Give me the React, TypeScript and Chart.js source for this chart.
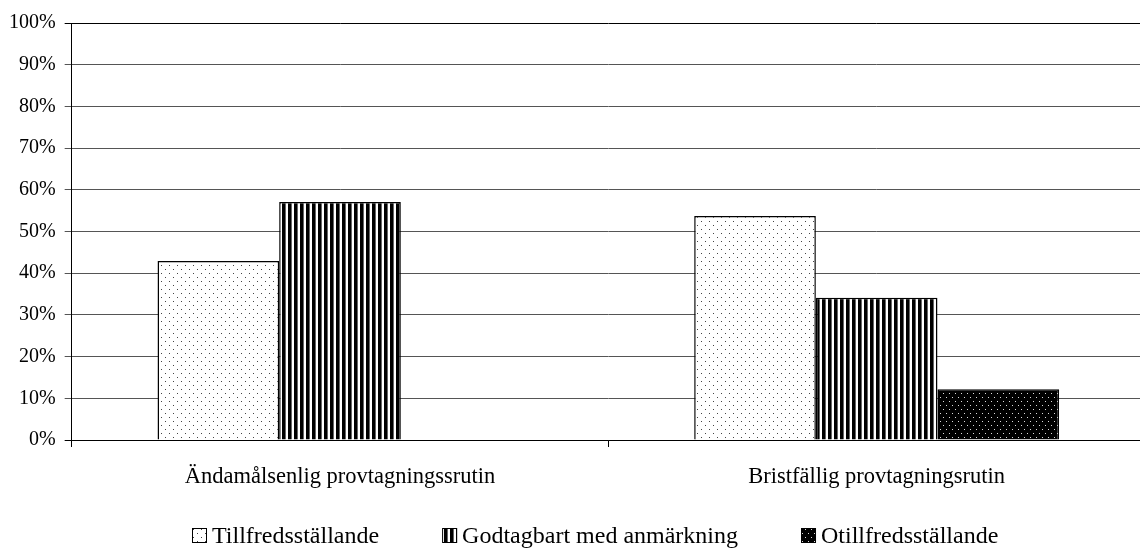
import React, { useEffect, useRef } from "react";
import { Chart, registerables } from "chart.js";

Chart.register(...registerables);

const categories = ["Ändamålsenlig provtagningssrutin", "Bristfällig provtagningsrutin"];
const seriesNames = ["Tillfredsställande", "Godtagbart med anmärkning", "Otillfredsställande"];
const tillfredsstallande = [42.9, 53.7];
const godtagbart = [57.1, 34.1];
const otillfredsstallande = [0, 12.2];
const yTicks = [0, 10, 20, 30, 40, 50, 60, 70, 80, 90, 100];

const FONT = "'Liberation Serif', 'Times New Roman', serif";

function makePattern(kind: string): CanvasPattern {
  const c = document.createElement("canvas");
  const ctx = c.getContext("2d")!;
  if (kind === "dots") {
    c.width = 8; c.height = 8;
    ctx.fillStyle = "#ffffff"; ctx.fillRect(0, 0, 8, 8);
    ctx.fillStyle = "#444444";
    ctx.fillRect(1, 1, 1, 1);
    ctx.fillRect(5, 5, 1, 1);
  } else if (kind === "stripes") {
    c.width = 6; c.height = 1;
    ctx.fillStyle = "#ffffff"; ctx.fillRect(0, 0, 6, 1);
    ctx.fillStyle = "#000000"; ctx.fillRect(0, 0, 3, 1);
    ctx.fillStyle = "#666666"; ctx.fillRect(3, 0, 1, 1);
  } else {
    c.width = 6; c.height = 8;
    ctx.fillStyle = "#000000"; ctx.fillRect(0, 0, 6, 8);
    ctx.fillStyle = "#dddddd";
    ctx.fillRect(1, 1, 1, 1);
    ctx.fillRect(4, 5, 1, 1);
  }
  return ctx.createPattern(c, "repeat")!;
}

const legendPlugin = {
  id: "customLegend",
  afterDraw(chart: any) {
    const ctx = chart.ctx as CanvasRenderingContext2D;
    const size = 24;
    const box = 15;
    const gapBoxText = 5;
    const itemGap = 63;
    ctx.save();
    ctx.font = `${size}px ${FONT}`;
    const items = chart.data.datasets.map((ds: any) => ({
      label: ds.label as string,
      fill: ds.backgroundColor,
      w: box + gapBoxText + ctx.measureText(ds.label).width,
    }));
    const total = items.reduce((s: number, it: any) => s + it.w, 0) + itemGap * (items.length - 1);
    let x = Math.round(595 - total / 2);
    const baseline = 543;
    const boxTop = 528;
    items.forEach((it: any) => {
      ctx.fillStyle = it.fill;
      ctx.fillRect(x, boxTop, box, box);
      ctx.strokeStyle = "#000000";
      ctx.lineWidth = 1;
      ctx.strokeRect(x + 0.5, boxTop + 0.5, box - 1, box - 1);
      ctx.fillStyle = "#000000";
      ctx.textBaseline = "alphabetic";
      ctx.textAlign = "left";
      ctx.fillText(it.label, x + box + gapBoxText, baseline);
      x += it.w + itemGap;
    });
    ctx.restore();
  },
};

export default function App() {
  const ref = useRef<HTMLCanvasElement>(null);
  useEffect(() => {
    document.body.style.margin = "0";
    const pats = [makePattern("dots"), makePattern("stripes"), makePattern("dark")];
    const values = [tillfredsstallande, godtagbart, otillfredsstallande];
    const chart = new Chart(ref.current!, {
      type: "bar",
      data: {
        labels: categories,
        datasets: seriesNames.map((name, i) => ({
          label: name,
          data: values[i],
          backgroundColor: pats[i] as any,
          borderColor: "#000000",
          borderWidth: 1.5,
          categoryPercentage: 0.68,
          barPercentage: 1,
        })),
      },
      plugins: [legendPlugin],
      options: {
        animation: false,
        responsive: false,
        maintainAspectRatio: false,
        layout: { padding: { top: 23, right: 0, left: 0, bottom: 40 } },
        plugins: {
          tooltip: { enabled: false },
          legend: { display: false },
        },
        scales: {
          x: {
            grid: {
              drawOnChartArea: false,
              color: "#000000",
              tickLength: 7,
              offset: true,
            },
            border: { color: "#000000", width: 1 },
            ticks: {
              font: { family: FONT, size: 22.5 },
              color: "#000000",
              padding: 17,
            },
          },
          y: {
            min: 0,
            max: 100,
            afterBuildTicks: (axis: any) => {
              axis.ticks = yTicks.map((v) => ({ value: v }));
            },
            grid: {
              color: (ctx: any) => (ctx.tick && (ctx.tick.value === 100 || ctx.tick.value === 0) ? "#000000" : "#555555"),
              tickLength: 7,
            },
            border: { color: "#000000", width: 1 },
            ticks: {
              font: { family: FONT, size: 20 },
              color: "#000000",
              padding: 9,
              callback: (v: any) => v + "%",
            },
          },
        },
      },
    });
    return () => chart.destroy();
  }, []);
  return (
    <div style={{ position: "absolute", left: 0, top: 0, width: 1140, height: 548, overflow: "hidden" }}>
      <canvas ref={ref} width={1145} height={548} style={{ width: 1145, height: 548 }} />
    </div>
  );
}
